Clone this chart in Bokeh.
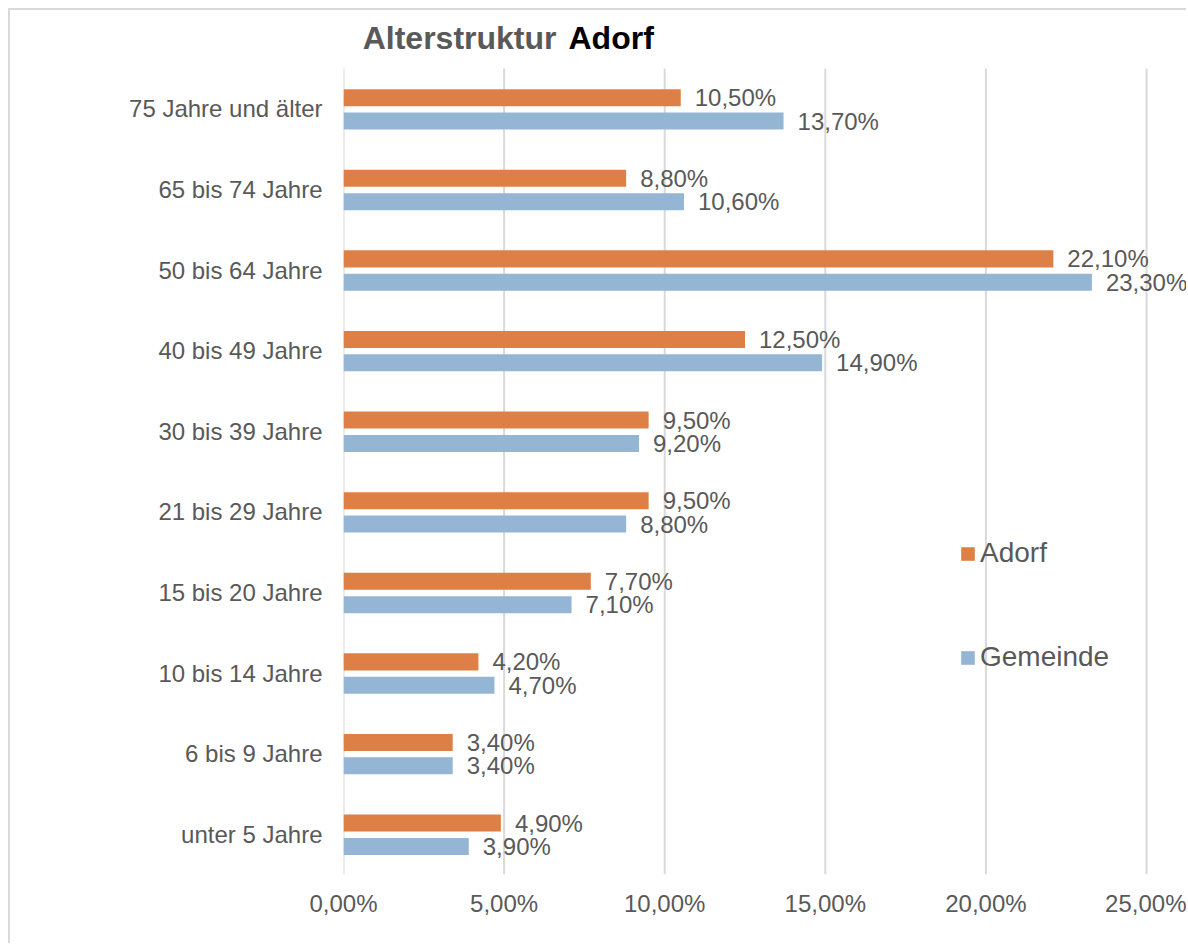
from bokeh.plotting import figure
from bokeh.models import (ColumnDataSource, LabelSet, Label, Legend, LegendItem,
                          FixedTicker, Range1d)
from bokeh.core.properties import value
from bokeh.embed import file_html
from bokeh.resources import INLINE

# ---- data (bottom to top) ----
categories = ["unter 5 Jahre", "6 bis 9 Jahre", "10 bis 14 Jahre", "15 bis 20 Jahre",
              "21 bis 29 Jahre", "30 bis 39 Jahre", "40 bis 49 Jahre", "50 bis 64 Jahre",
              "65 bis 74 Jahre", "75 Jahre und älter"]
adorf = [4.9, 3.4, 4.2, 7.7, 9.5, 9.5, 12.5, 22.1, 8.8, 10.5]
gemeinde = [3.9, 3.4, 4.7, 7.1, 8.8, 9.2, 14.9, 23.3, 10.6, 13.7]
x_ticks = [0, 5, 10, 15, 20, 25]

FONT = "Liberation Sans"
TXT = "#595959"
ORANGE = "#DE8046"
BLUE = "#94B6D4"
GRID = "#d9d9d9"

def fmt(v):
    return f"{v:.2f}%".replace(".", ",")

n = len(categories)
pos = list(range(n))
src_a = ColumnDataSource(dict(y=[p + 0.138 for p in pos], x=adorf, lbl=[fmt(v) for v in adorf]))
src_g = ColumnDataSource(dict(y=[p - 0.152 for p in pos], x=gemeinde, lbl=[fmt(v) for v in gemeinde]))
src_grid = ColumnDataSource(dict(x=x_ticks, y0=[-0.5] * len(x_ticks), y1=[n - 0.5] * len(x_ticks)))

# layout (pixels): canvas 1178x935; plotting area for data 803x806 px,
# frame extended to top and right so labels/title are not clipped
W, H = 1178, 935
LEFT, BOTTOM = 333, 71
DATA_W, DATA_H = 803, 806
frame_w = W - LEFT
frame_h = H - BOTTOM
x_max = x_ticks[-1] * frame_w / DATA_W
y_max = -0.5 + n * frame_h / DATA_H

p = figure(width=W, height=H, output_backend="svg", toolbar_location=None,
           x_range=Range1d(0, x_max), y_range=Range1d(-0.5, y_max),
           min_border_left=LEFT, min_border_right=0, min_border_top=0, min_border_bottom=BOTTOM)
p.styles = {"margin-left": "8px", "margin-top": "8px",
            "border-left": "2px solid #d9d9d9", "border-top": "2px solid #d9d9d9"}
p.outline_line_color = None
p.background_fill_color = "white"
p.border_fill_color = "white"
p.xgrid.grid_line_color = None
p.ygrid.grid_line_color = None

p.segment(x0="x", y0="y0", x1="x", y1="y1", source=src_grid, line_color=GRID, line_width=2)

ra = p.hbar(y="y", right="x", left=0, height=0.211, source=src_a, color=ORANGE, line_color=None)
rg = p.hbar(y="y", right="x", left=0, height=0.211, source=src_g, color=BLUE, line_color=None)

for src in (src_a, src_g):
    p.add_layout(LabelSet(x="x", y="y", text="lbl", source=src, x_offset=14,
                          text_baseline="middle", text_align="left",
                          text_font=value(FONT), text_font_size="24px", text_color=TXT))

# axes
p.xaxis.ticker = FixedTicker(ticks=x_ticks)
p.xaxis.major_label_overrides = {t: fmt(t) for t in x_ticks}
p.yaxis.ticker = FixedTicker(ticks=pos)
p.yaxis.major_label_overrides = {i: c for i, c in enumerate(categories)}
for ax in (p.xaxis[0], p.yaxis[0]):
    ax.axis_line_color = None
    ax.major_tick_line_color = None
    ax.minor_tick_line_color = None
    ax.major_tick_out = 0
    ax.major_tick_in = 0
    ax.major_label_text_font = FONT
    ax.major_label_text_font_size = "24px"
    ax.major_label_text_color = TXT
p.xaxis.major_label_standoff = 15
p.yaxis.major_label_standoff = 21

# title (two-coloured)
p.add_layout(Label(x=213, y=837, x_units="screen", y_units="screen", text="Alterstruktur",
                   text_align="right", text_baseline="middle", text_font=FONT,
                   text_font_size="32px", text_font_style="bold", text_color=TXT))
p.add_layout(Label(x=225, y=837, x_units="screen", y_units="screen", text="Adorf",
                   text_align="left", text_baseline="middle", text_font=FONT,
                   text_font_size="32px", text_font_style="bold", text_color="black"))

legend = Legend(items=[LegendItem(label="Adorf", renderers=[ra]),
                       LegendItem(label="Gemeinde", renderers=[rg])],
                location=(616, 201), orientation="vertical",
                glyph_width=17, glyph_height=17, label_height=32, label_standoff=4,
                spacing=72, padding=0, margin=0,
                border_line_color=None, background_fill_alpha=0,
                label_text_font=FONT, label_text_font_size="28px", label_text_color=TXT)
p.add_layout(legend)

open("out.html", "w").write(file_html(p, INLINE))
